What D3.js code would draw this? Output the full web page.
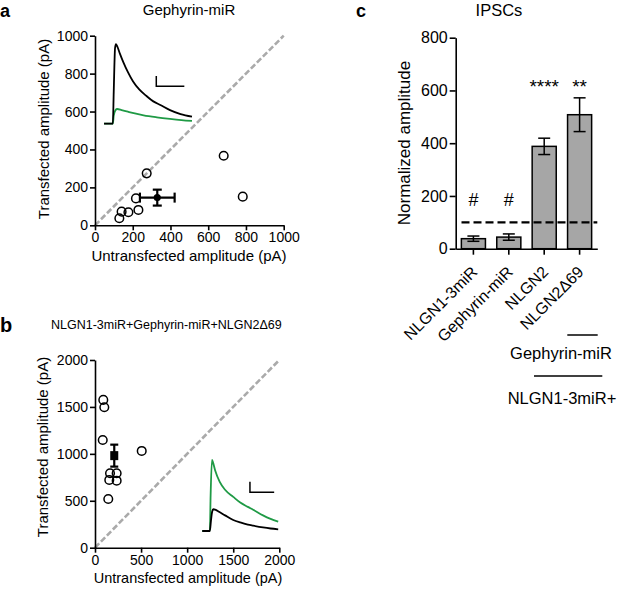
<!DOCTYPE html>
<html><head><meta charset="utf-8">
<script src="https://cdn.jsdelivr.net/npm/d3@7"></script>
<style>
body{margin:0;background:#fff}
svg{display:block}
text{font-family:"Liberation Sans",Arial,Helvetica,sans-serif;fill:#000}
</style>
</head><body>
<svg id="chart" width="617" height="592"></svg>
<script>
// ---------- Panel a data (Gephyrin-miR) ----------
const aUntransfected = [274, 783, 682, 217, 230, 177, 141, 129];
const aTransfected   = [274, 151, 367, 142, 81, 69, 72, 37];
const aMeanX = 330, aMeanY = 146, aSemX = 92, aSemY = 42;
const aTicks = [0, 200, 400, 600, 800, 1000];
// inset traces (time in a.u., normalized current)
const aTraceBlackT = [0, 10, 11, 12.5, 13.5, 15, 18, 22, 27, 33, 40, 48, 56, 64, 75, 87, 100];
const aTraceBlackV = [0, 0, 0.4, 0.95, 1.0, 0.97, 0.88, 0.77, 0.65, 0.53, 0.43, 0.35, 0.28, 0.235, 0.17, 0.12, 0.088];
const aTraceGreenT = [0, 10, 11, 13, 15, 20, 27, 35, 45, 60, 75, 88, 100];
const aTraceGreenV = [0, 0, 0.1, 0.17, 0.184, 0.17, 0.15, 0.128, 0.105, 0.08, 0.06, 0.045, 0.034];

// ---------- Panel b data ----------
const bUntransfected = [90, 101, 84, 507, 144, 163, 235, 155, 235];
const bTransfected   = [1575, 1497, 1148, 1031, 519, 793, 793, 722, 714];
const bMeanX = 209, bMeanY = 981, bSemY = 117;
const bTicks = [0, 500, 1000, 1500, 2000];
const bTraceGreenT = [0, 10, 11, 12.8, 14, 17, 23, 30, 40.8, 50, 60, 67, 80, 90, 100];
const bTraceGreenV = [0, 0, 0.5, 1.0, 0.97, 0.85, 0.69, 0.58, 0.48, 0.40, 0.34, 0.30, 0.22, 0.17, 0.131];
const bTraceBlackT = [0, 10, 11.5, 13, 14.5, 17, 22, 30, 40.8, 50, 60, 67, 80, 90, 100];
const bTraceBlackV = [0, 0, 0.15, 0.27, 0.306, 0.3, 0.27, 0.22, 0.155, 0.12, 0.09, 0.075, 0.05, 0.035, 0.024];

// ---------- Panel c data (IPSCs) ----------
const cCategories = ["NLGN1-3miR", "Gephyrin-miR", "NLGN2", "NLGN2\u039469"];
const cValues = [38, 44, 388, 508];
const cSem = [10, 12, 31, 64];
const cMarks = ["#", "#", "****", "**"];
const cTicks = [0, 200, 400, 600, 800];
const cReference = 100;

const svg = d3.select("#chart");
const FONT = '"Liberation Sans",Arial,Helvetica,sans-serif';
const green = "#1f9a45";

function styleAxis(g, fs) {
  g.selectAll(".domain").attr("stroke", "#000").attr("stroke-width", 1.6);
  g.selectAll(".tick line").attr("stroke", "#000").attr("stroke-width", 1.6);
  g.selectAll(".tick text").attr("font-size", fs).attr("font-family", FONT).attr("fill", "#000");
}

function scatterPanel(opt) {
  const x = d3.scaleLinear().domain(opt.dom).range(opt.xr);
  const y = d3.scaleLinear().domain(opt.dom).range(opt.yr);
  const g = svg.append("g");
  // diagonal identity line
  g.append("line")
    .attr("x1", x(opt.dom[0])).attr("y1", y(opt.dom[0]))
    .attr("x2", x(opt.dom[1])).attr("y2", y(opt.dom[1]))
    .attr("stroke", "#aaaaaa").attr("stroke-width", 2.6).attr("stroke-dasharray", "6,2.5");
  // axes
  const gx = g.append("g").attr("transform", `translate(0,${opt.yr[0]})`)
    .call(d3.axisBottom(x).tickValues(opt.ticks).tickFormat(d3.format("d")).tickSize(5).tickSizeOuter(0).tickPadding(2));
  styleAxis(gx, opt.tickFs);
  const gy = g.append("g").attr("transform", `translate(${opt.xr[0]},0)`)
    .call(d3.axisLeft(y).tickValues(opt.ticks).tickFormat(d3.format("d")).tickSize(5).tickSizeOuter(0).tickPadding(2));
  styleAxis(gy, opt.tickFs);
  // inset traces
  const tx = d3.scaleLinear().domain([0, 100]).range([x(opt.inset.x0), x(opt.inset.x1)]);
  const ty = d3.scaleLinear().domain([0, 1]).range([y(opt.inset.y0), y(opt.inset.y1)]);
  const line = d3.line().x(d => tx(d[0])).y(d => ty(d[1])).curve(d3.curveMonotoneX);
  opt.traces.forEach(tr => {
    g.append("path").datum(d3.zip(tr.t, tr.v)).attr("d", line)
      .attr("fill", "none").attr("stroke", tr.color).attr("stroke-width", 1.8);
  });
  // scale bar
  const sb = opt.inset.bar;
  g.append("path")
    .attr("d", `M${tx(sb.t0)},${ty(sb.v1)}V${ty(sb.v0)}H${tx(sb.t1)}`)
    .attr("fill", "none").attr("stroke", "#000").attr("stroke-width", 1.5);
  // points
  g.selectAll("circle.pt").data(d3.zip(opt.ux, opt.tx)).join("circle")
    .attr("class", "pt").attr("cx", d => x(d[0])).attr("cy", d => y(d[1])).attr("r", 4.3)
    .attr("fill", "none").attr("stroke", "#000").attr("stroke-width", 1.5);
  return {x, y, g};
}

// ---------- Panel a ----------
const A = scatterPanel({
  dom: [0, 1000], xr: [95, 283.7], yr: [225.3, 35.7], ticks: aTicks, tickFs: 14,
  ux: aUntransfected, tx: aTransfected,
  inset: {x0: 48, x1: 514, y0: 536, y1: 956, bar: {t0: 59.4, t1: 91.3, v0: 0.469, v1: 0.598}},
  traces: [{t: aTraceGreenT, v: aTraceGreenV, color: green}, {t: aTraceBlackT, v: aTraceBlackV, color: "#000"}]
});
{
  const {x, y, g} = A;
  const cx = x(aMeanX), cy = y(aMeanY);
  const eb = g.append("g").attr("stroke", "#000").attr("stroke-width", 2.2);
  eb.append("line").attr("x1", x(aMeanX - aSemX)).attr("x2", x(aMeanX + aSemX)).attr("y1", cy).attr("y2", cy);
  eb.append("line").attr("x1", x(aMeanX - aSemX)).attr("x2", x(aMeanX - aSemX)).attr("y1", cy - 5).attr("y2", cy + 5);
  eb.append("line").attr("x1", x(aMeanX + aSemX)).attr("x2", x(aMeanX + aSemX)).attr("y1", cy - 5).attr("y2", cy + 5);
  eb.append("line").attr("x1", cx).attr("x2", cx).attr("y1", y(aMeanY - aSemY)).attr("y2", y(aMeanY + aSemY));
  eb.append("line").attr("x1", cx - 4.5).attr("x2", cx + 4.5).attr("y1", y(aMeanY - aSemY)).attr("y2", y(aMeanY - aSemY));
  eb.append("line").attr("x1", cx - 4.5).attr("x2", cx + 4.5).attr("y1", y(aMeanY + aSemY)).attr("y2", y(aMeanY + aSemY));
  g.append("circle").attr("cx", cx).attr("cy", cy).attr("r", 3.6).attr("fill", "#000");
  g.append("text").attr("x", 189).attr("y", 15).attr("text-anchor", "middle").attr("font-size", 15).text("Gephyrin-miR");
  g.append("text").attr("x", 189).attr("y", 261).attr("text-anchor", "middle").attr("font-size", 15).text("Untransfected amplitude (pA)");
  g.append("text").attr("transform", "translate(49,129) rotate(-90)").attr("text-anchor", "middle").attr("font-size", 15).text("Transfected amplitude (pA)");
  g.append("text").attr("x", 0).attr("y", 16.5).attr("font-size", 18).attr("font-weight", "bold").text("a");
}

// ---------- Panel b ----------
const B = scatterPanel({
  dom: [0, 2000], xr: [95, 279.3], yr: [547.7, 360], ticks: bTicks, tickFs: 14,
  ux: bUntransfected, tx: bTransfected,
  inset: {x0: 1164, x1: 1988, y0: 178, y1: 935, bar: {t0: 62.8, t1: 94.7, v0: 0.545, v1: 0.694}},
  traces: [{t: bTraceGreenT, v: bTraceGreenV, color: green}, {t: bTraceBlackT, v: bTraceBlackV, color: "#000"}]
});
{
  const {x, y, g} = B;
  const cx = x(bMeanX), cy = y(bMeanY);
  const eb = g.append("g").attr("stroke", "#000").attr("stroke-width", 2.2);
  eb.append("line").attr("x1", cx).attr("x2", cx).attr("y1", y(bMeanY - bSemY)).attr("y2", y(bMeanY + bSemY));
  eb.append("line").attr("x1", cx - 4).attr("x2", cx + 4).attr("y1", y(bMeanY + bSemY)).attr("y2", y(bMeanY + bSemY));
  eb.append("line").attr("x1", cx - 4).attr("x2", cx + 4).attr("y1", y(bMeanY - bSemY)).attr("y2", y(bMeanY - bSemY));
  g.append("rect").attr("x", cx - 4).attr("y", cy - 4.5).attr("width", 8).attr("height", 9).attr("fill", "#000");
  g.append("text").attr("x", 51).attr("y", 329).attr("font-size", 12.5).text("NLGN1-3miR+Gephyrin-miR+NLGN2\u039469");
  g.append("text").attr("x", 188).attr("y", 583).attr("text-anchor", "middle").attr("font-size", 14.5).text("Untransfected amplitude (pA)");
  g.append("text").attr("transform", "translate(48,447) rotate(-90)").attr("text-anchor", "middle").attr("font-size", 15).text("Transfected amplitude (pA)");
  g.append("text").attr("x", 0).attr("y", 332).attr("font-size", 20).attr("font-weight", "bold").text("b");
}

// ---------- Panel c ----------
{
  const x = d3.scaleBand().domain(cCategories).range([455.7, 597.3]).paddingInner(0.32).paddingOuter(0.16);
  const y = d3.scaleLinear().domain([0, 800]).range([248.7, 37.7]);
  const g = svg.append("g");
  g.selectAll("rect.bar").data(cCategories).join("rect").attr("class", "bar")
    .attr("x", d => x(d)).attr("width", x.bandwidth())
    .attr("y", (d, i) => y(cValues[i])).attr("height", (d, i) => y(0) - y(cValues[i]))
    .attr("fill", "#a6a6a6").attr("stroke", "#000").attr("stroke-width", 1.5);
  const cap = 6;
  cCategories.forEach((c, i) => {
    const cx = x(c) + x.bandwidth() / 2;
    const eg = g.append("g").attr("stroke", "#000").attr("stroke-width", 1.5);
    eg.append("line").attr("x1", cx).attr("x2", cx).attr("y1", y(cValues[i] - cSem[i])).attr("y2", y(cValues[i] + cSem[i]));
    eg.append("line").attr("x1", cx - cap).attr("x2", cx + cap).attr("y1", y(cValues[i] + cSem[i])).attr("y2", y(cValues[i] + cSem[i]));
    eg.append("line").attr("x1", cx - cap).attr("x2", cx + cap).attr("y1", y(cValues[i] - cSem[i])).attr("y2", y(cValues[i] - cSem[i]));
    const isHash = cMarks[i] === "#";
    g.append("text").attr("x", cx).attr("y", isHash ? y(162) : y(590)).attr("text-anchor", "middle")
      .attr("font-size", isHash ? 18 : 19).text(cMarks[i]);
    g.append("text").attr("transform", `translate(${cx + 5},${273}) rotate(-45)`)
      .attr("text-anchor", "end").attr("font-size", 16).text(c);
  });
  // reference line at 100%
  g.append("line").attr("x1", 461.5).attr("x2", 597.3).attr("y1", y(cReference)).attr("y2", y(cReference))
    .attr("stroke", "#000").attr("stroke-width", 2.4).attr("stroke-dasharray", "8,4");
  const gx = g.append("g").attr("transform", `translate(0,${y(0)})`)
    .call(d3.axisBottom(x).tickSize(6).tickSizeOuter(0).tickFormat(""));
  styleAxis(gx, 16);
  const gy = g.append("g").attr("transform", `translate(455.7,0)`)
    .call(d3.axisLeft(y).tickValues(cTicks).tickSize(6).tickSizeOuter(0).tickPadding(2));
  styleAxis(gy, 16);
  g.append("text").attr("x", 499).attr("y", 16).attr("text-anchor", "middle").attr("font-size", 16.5).text("IPSCs");
  g.append("text").attr("transform", "translate(410,143) rotate(-90)").attr("text-anchor", "middle").attr("font-size", 17).text("Normalized amplitude");
  g.append("text").attr("x", 356).attr("y", 16.5).attr("font-size", 18).attr("font-weight", "bold").text("c");
  // group brackets below
  g.append("line").attr("x1", 567.3).attr("x2", 597.7).attr("y1", 335).attr("y2", 335).attr("stroke", "#000").attr("stroke-width", 1.5);
  g.append("text").attr("x", 561).attr("y", 359).attr("text-anchor", "middle").attr("font-size", 16.5).text("Gephyrin-miR");
  g.append("line").attr("x1", 534).attr("x2", 602.3).attr("y1", 376).attr("y2", 376).attr("stroke", "#000").attr("stroke-width", 1.5);
  g.append("text").attr("x", 562).attr("y", 404).attr("text-anchor", "middle").attr("font-size", 16.5).text("NLGN1-3miR+");
}
</script>
</body></html>
